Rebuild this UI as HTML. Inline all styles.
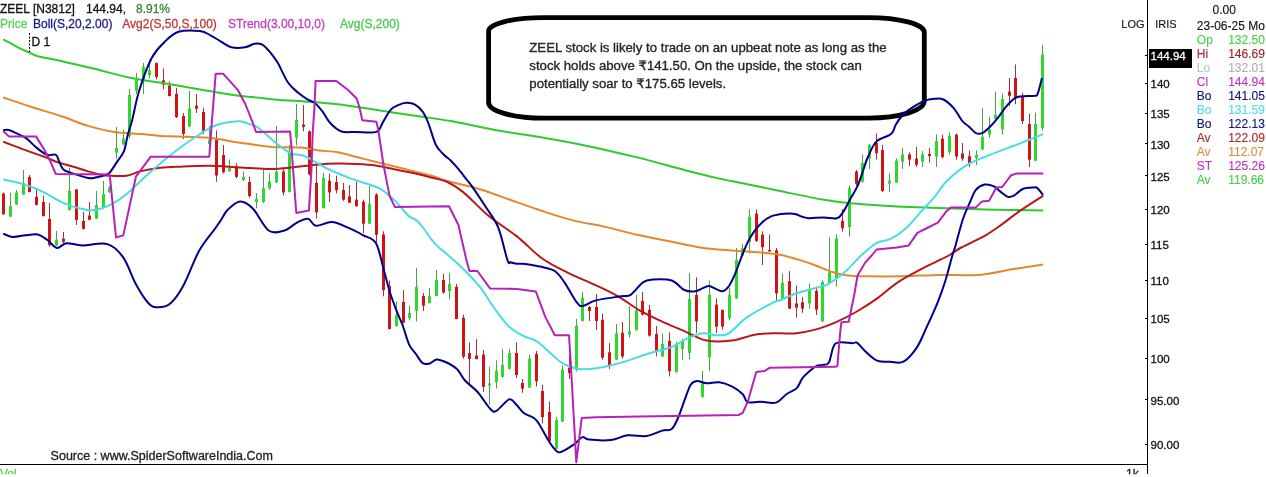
<!DOCTYPE html>
<html><head><meta charset="utf-8"><style>
html,body{margin:0;padding:0;background:#fff;}
body{width:1266px;height:477px;overflow:hidden;position:relative;}
svg{position:absolute;left:0;top:0;}
text{font-family:"Liberation Sans","DejaVu Sans",sans-serif;}
.ax{font-size:11.5px;fill:#111;stroke:#111;stroke-width:0.3px;}
.hd{font-size:12px;stroke-width:0.3px;}
.lg{font-size:12px;stroke-width:0.12px;}
.note{font-family:"Liberation Sans","DejaVu Sans",sans-serif;font-size:13.2px;fill:#262626;stroke:#262626;stroke-width:0.35px;}
</style></head><body>
<svg width="1266" height="477" viewBox="0 0 1266 477">
<defs><clipPath id="clipb"><rect x="0" y="0" width="1266" height="474.3"/></clipPath></defs>
<path d="M543.6,17.6 H868.3 A56,14.7 0 0 1 924.3,32.3 V101.0 A56,17.2 0 0 1 868.3,118.2 H543.6 A55,15.7 0 0 1 488.6,102.5 V31.1 A55,13.5 0 0 1 543.6,17.6 Z" fill="none" stroke="#000" stroke-width="4.8"/>
<line x1="3.5" y1="192.5" x2="3.5" y2="215.0" stroke="#A83030" stroke-width="1"/>
<rect x="2.0" y="193.5" width="3" height="20.5" fill="#D01414"/>
<line x1="10.5" y1="192.5" x2="10.5" y2="217.0" stroke="#48A048" stroke-width="1"/>
<rect x="9.0" y="206.0" width="3" height="10.6" fill="#2ED82E"/>
<line x1="16.5" y1="190.0" x2="16.5" y2="205.0" stroke="#48A048" stroke-width="1"/>
<rect x="15.0" y="192.5" width="3" height="12.0" fill="#2ED82E"/>
<line x1="23.5" y1="170.0" x2="23.5" y2="195.0" stroke="#48A048" stroke-width="1"/>
<rect x="22.0" y="183.0" width="3" height="11.6" fill="#2ED82E"/>
<line x1="29.5" y1="175.0" x2="29.5" y2="192.5" stroke="#A83030" stroke-width="1"/>
<rect x="28.0" y="177.0" width="3" height="15.0" fill="#D01414"/>
<line x1="36.5" y1="188.3" x2="36.5" y2="205.5" stroke="#A83030" stroke-width="1"/>
<rect x="35.0" y="196.7" width="3" height="8.3" fill="#D01414"/>
<line x1="43.5" y1="195.6" x2="43.5" y2="216.6" stroke="#A83030" stroke-width="1"/>
<rect x="42.0" y="202.0" width="3" height="14.0" fill="#D01414"/>
<line x1="49.5" y1="203.0" x2="49.5" y2="247.0" stroke="#A83030" stroke-width="1"/>
<rect x="48.0" y="219.0" width="3" height="26.0" fill="#D01414"/>
<line x1="56.5" y1="231.0" x2="56.5" y2="246.0" stroke="#48A048" stroke-width="1"/>
<rect x="55.0" y="239.7" width="3" height="5.8" fill="#2ED82E"/>
<line x1="63.5" y1="232.0" x2="63.5" y2="243.0" stroke="#A83030" stroke-width="1"/>
<rect x="62.0" y="238.6" width="3" height="3.2" fill="#D01414"/>
<line x1="69.5" y1="168.0" x2="69.5" y2="210.5" stroke="#48A048" stroke-width="1"/>
<rect x="68.0" y="191.0" width="3" height="19.0" fill="#2ED82E"/>
<line x1="76.5" y1="189.0" x2="76.5" y2="225.0" stroke="#A83030" stroke-width="1"/>
<rect x="75.0" y="189.5" width="3" height="30.5" fill="#D01414"/>
<line x1="83.5" y1="212.0" x2="83.5" y2="229.5" stroke="#A83030" stroke-width="1"/>
<rect x="82.0" y="221.0" width="3" height="8.0" fill="#D01414"/>
<line x1="89.5" y1="202.0" x2="89.5" y2="220.5" stroke="#A83030" stroke-width="1"/>
<rect x="88.0" y="215.5" width="3" height="4.2" fill="#D01414"/>
<line x1="96.5" y1="191.0" x2="96.5" y2="219.0" stroke="#48A048" stroke-width="1"/>
<rect x="95.0" y="205.0" width="3" height="13.7" fill="#2ED82E"/>
<line x1="103.5" y1="181.0" x2="103.5" y2="208.5" stroke="#48A048" stroke-width="1"/>
<rect x="102.0" y="194.0" width="3" height="14.0" fill="#2ED82E"/>
<line x1="109.5" y1="186.0" x2="109.5" y2="193.0" stroke="#48A048" stroke-width="1"/>
<rect x="108.0" y="187.5" width="3" height="4.5" fill="#2ED82E"/>
<line x1="116.5" y1="127.0" x2="116.5" y2="158.7" stroke="#48A048" stroke-width="1"/>
<rect x="115.0" y="148.0" width="3" height="4.6" fill="#2ED82E"/>
<line x1="123.5" y1="129.7" x2="123.5" y2="145.2" stroke="#48A048" stroke-width="1"/>
<rect x="122.0" y="138.5" width="3" height="5.8" fill="#2ED82E"/>
<line x1="129.5" y1="88.8" x2="129.5" y2="138.5" stroke="#48A048" stroke-width="1"/>
<rect x="128.0" y="95.0" width="3" height="41.0" fill="#2ED82E"/>
<line x1="136.5" y1="73.0" x2="136.5" y2="94.0" stroke="#48A048" stroke-width="1"/>
<rect x="135.0" y="79.4" width="3" height="11.6" fill="#2ED82E"/>
<line x1="143.5" y1="63.0" x2="143.5" y2="94.0" stroke="#48A048" stroke-width="1"/>
<rect x="142.0" y="66.8" width="3" height="14.6" fill="#2ED82E"/>
<line x1="149.5" y1="59.4" x2="149.5" y2="78.3" stroke="#48A048" stroke-width="1"/>
<rect x="148.0" y="70.0" width="3" height="5.0" fill="#2ED82E"/>
<line x1="156.5" y1="62.6" x2="156.5" y2="79.4" stroke="#A83030" stroke-width="1"/>
<rect x="155.0" y="63.0" width="3" height="14.0" fill="#D01414"/>
<line x1="163.5" y1="68.4" x2="163.5" y2="89.4" stroke="#A83030" stroke-width="1"/>
<rect x="162.0" y="80.4" width="3" height="4.2" fill="#D01414"/>
<line x1="169.5" y1="81.4" x2="169.5" y2="96.5" stroke="#A83030" stroke-width="1"/>
<rect x="168.0" y="85.6" width="3" height="10.4" fill="#D01414"/>
<line x1="176.5" y1="87.7" x2="176.5" y2="118.0" stroke="#A83030" stroke-width="1"/>
<rect x="175.0" y="94.0" width="3" height="23.0" fill="#D01414"/>
<line x1="183.5" y1="113.0" x2="183.5" y2="139.0" stroke="#A83030" stroke-width="1"/>
<rect x="182.0" y="116.0" width="3" height="18.0" fill="#D01414"/>
<line x1="189.5" y1="91.0" x2="189.5" y2="127.0" stroke="#48A048" stroke-width="1"/>
<rect x="188.0" y="108.7" width="3" height="17.8" fill="#2ED82E"/>
<line x1="196.5" y1="94.0" x2="196.5" y2="113.0" stroke="#A83030" stroke-width="1"/>
<rect x="195.0" y="105.6" width="3" height="3.1" fill="#D01414"/>
<line x1="203.5" y1="107.7" x2="203.5" y2="134.0" stroke="#A83030" stroke-width="1"/>
<rect x="202.0" y="112.0" width="3" height="20.0" fill="#D01414"/>
<line x1="209.5" y1="126.0" x2="209.5" y2="145.0" stroke="#48A048" stroke-width="1"/>
<rect x="208.0" y="140.0" width="3" height="4.0" fill="#2ED82E"/>
<line x1="216.5" y1="130.4" x2="216.5" y2="181.8" stroke="#A83030" stroke-width="1"/>
<rect x="215.0" y="139.8" width="3" height="35.7" fill="#D01414"/>
<line x1="223.5" y1="145.0" x2="223.5" y2="173.4" stroke="#A83030" stroke-width="1"/>
<rect x="222.0" y="155.0" width="3" height="17.3" fill="#D01414"/>
<line x1="229.5" y1="159.7" x2="229.5" y2="171.5" stroke="#48A048" stroke-width="1"/>
<rect x="228.0" y="168.0" width="3" height="3.3" fill="#2ED82E"/>
<line x1="236.5" y1="163.0" x2="236.5" y2="178.3" stroke="#A83030" stroke-width="1"/>
<rect x="235.0" y="166.3" width="3" height="10.5" fill="#D01414"/>
<line x1="243.5" y1="171.5" x2="243.5" y2="181.0" stroke="#48A048" stroke-width="1"/>
<rect x="242.0" y="176.8" width="3" height="3.2" fill="#2ED82E"/>
<line x1="249.5" y1="176.8" x2="249.5" y2="197.6" stroke="#A83030" stroke-width="1"/>
<rect x="248.0" y="182.0" width="3" height="14.0" fill="#D01414"/>
<line x1="256.5" y1="193.0" x2="256.5" y2="208.2" stroke="#48A048" stroke-width="1"/>
<rect x="255.0" y="198.8" width="3" height="3.2" fill="#2ED82E"/>
<line x1="263.5" y1="168.4" x2="263.5" y2="203.0" stroke="#48A048" stroke-width="1"/>
<rect x="262.0" y="188.3" width="3" height="13.7" fill="#2ED82E"/>
<line x1="269.5" y1="173.5" x2="269.5" y2="189.8" stroke="#48A048" stroke-width="1"/>
<rect x="268.0" y="181.5" width="3" height="6.8" fill="#2ED82E"/>
<line x1="276.5" y1="126.0" x2="276.5" y2="183.0" stroke="#48A048" stroke-width="1"/>
<rect x="275.0" y="171.5" width="3" height="10.9" fill="#2ED82E"/>
<line x1="283.5" y1="167.3" x2="283.5" y2="195.5" stroke="#A83030" stroke-width="1"/>
<rect x="282.0" y="171.5" width="3" height="21.0" fill="#D01414"/>
<line x1="289.5" y1="145.0" x2="289.5" y2="192.5" stroke="#48A048" stroke-width="1"/>
<rect x="288.0" y="152.0" width="3" height="40.0" fill="#2ED82E"/>
<line x1="296.5" y1="104.0" x2="296.5" y2="145.5" stroke="#48A048" stroke-width="1"/>
<rect x="295.0" y="120.0" width="3" height="17.7" fill="#2ED82E"/>
<line x1="303.5" y1="105.0" x2="303.5" y2="131.4" stroke="#A83030" stroke-width="1"/>
<rect x="302.0" y="124.6" width="3" height="2.4" fill="#D01414"/>
<line x1="309.5" y1="130.4" x2="309.5" y2="175.5" stroke="#A83030" stroke-width="1"/>
<rect x="308.0" y="131.4" width="3" height="43.0" fill="#D01414"/>
<line x1="316.5" y1="164.5" x2="316.5" y2="218.7" stroke="#A83030" stroke-width="1"/>
<rect x="315.0" y="183.0" width="3" height="29.4" fill="#D01414"/>
<line x1="323.5" y1="172.8" x2="323.5" y2="208.5" stroke="#48A048" stroke-width="1"/>
<rect x="322.0" y="178.0" width="3" height="30.2" fill="#2ED82E"/>
<line x1="329.5" y1="173.6" x2="329.5" y2="202.0" stroke="#A83030" stroke-width="1"/>
<rect x="328.0" y="180.7" width="3" height="11.7" fill="#D01414"/>
<line x1="336.5" y1="175.6" x2="336.5" y2="193.4" stroke="#A83030" stroke-width="1"/>
<rect x="335.0" y="182.0" width="3" height="8.2" fill="#D01414"/>
<line x1="343.5" y1="183.0" x2="343.5" y2="200.8" stroke="#A83030" stroke-width="1"/>
<rect x="342.0" y="190.0" width="3" height="9.7" fill="#D01414"/>
<line x1="349.5" y1="185.0" x2="349.5" y2="203.0" stroke="#A83030" stroke-width="1"/>
<rect x="348.0" y="196.4" width="3" height="6.3" fill="#D01414"/>
<line x1="356.5" y1="181.8" x2="356.5" y2="207.0" stroke="#A83030" stroke-width="1"/>
<rect x="355.0" y="199.6" width="3" height="6.4" fill="#D01414"/>
<line x1="363.5" y1="199.6" x2="363.5" y2="233.0" stroke="#A83030" stroke-width="1"/>
<rect x="362.0" y="201.7" width="3" height="22.0" fill="#D01414"/>
<line x1="369.5" y1="186.0" x2="369.5" y2="224.0" stroke="#48A048" stroke-width="1"/>
<rect x="368.0" y="203.8" width="3" height="19.9" fill="#2ED82E"/>
<line x1="376.5" y1="193.3" x2="376.5" y2="242.6" stroke="#A83030" stroke-width="1"/>
<rect x="375.0" y="194.4" width="3" height="40.4" fill="#D01414"/>
<line x1="383.5" y1="231.3" x2="383.5" y2="296.3" stroke="#A83030" stroke-width="1"/>
<rect x="382.0" y="234.4" width="3" height="55.6" fill="#D01414"/>
<line x1="389.5" y1="280.5" x2="389.5" y2="329.5" stroke="#A83030" stroke-width="1"/>
<rect x="388.0" y="286.0" width="3" height="43.0" fill="#D01414"/>
<line x1="396.5" y1="301.5" x2="396.5" y2="326.5" stroke="#48A048" stroke-width="1"/>
<rect x="395.0" y="315.0" width="3" height="11.0" fill="#2ED82E"/>
<line x1="403.5" y1="290.0" x2="403.5" y2="323.5" stroke="#A83030" stroke-width="1"/>
<rect x="402.0" y="302.0" width="3" height="20.7" fill="#D01414"/>
<line x1="409.5" y1="305.7" x2="409.5" y2="320.4" stroke="#48A048" stroke-width="1"/>
<rect x="408.0" y="312.8" width="3" height="5.2" fill="#2ED82E"/>
<line x1="416.5" y1="268.0" x2="416.5" y2="321.4" stroke="#48A048" stroke-width="1"/>
<rect x="415.0" y="286.8" width="3" height="24.2" fill="#2ED82E"/>
<line x1="423.5" y1="293.0" x2="423.5" y2="311.0" stroke="#A83030" stroke-width="1"/>
<rect x="422.0" y="295.9" width="3" height="9.8" fill="#D01414"/>
<line x1="429.5" y1="288.0" x2="429.5" y2="303.6" stroke="#48A048" stroke-width="1"/>
<rect x="428.0" y="295.9" width="3" height="7.1" fill="#2ED82E"/>
<line x1="436.5" y1="270.0" x2="436.5" y2="296.3" stroke="#48A048" stroke-width="1"/>
<rect x="435.0" y="280.0" width="3" height="16.0" fill="#2ED82E"/>
<line x1="443.5" y1="273.6" x2="443.5" y2="293.8" stroke="#A83030" stroke-width="1"/>
<rect x="442.0" y="280.0" width="3" height="12.5" fill="#D01414"/>
<line x1="449.5" y1="272.8" x2="449.5" y2="299.4" stroke="#48A048" stroke-width="1"/>
<rect x="448.0" y="284.0" width="3" height="7.0" fill="#2ED82E"/>
<line x1="456.5" y1="284.0" x2="456.5" y2="319.3" stroke="#A83030" stroke-width="1"/>
<rect x="455.0" y="286.8" width="3" height="32.2" fill="#D01414"/>
<line x1="463.5" y1="314.7" x2="463.5" y2="358.7" stroke="#A83030" stroke-width="1"/>
<rect x="462.0" y="317.8" width="3" height="38.8" fill="#D01414"/>
<line x1="469.5" y1="342.5" x2="469.5" y2="385.8" stroke="#A83030" stroke-width="1"/>
<rect x="468.0" y="353.0" width="3" height="6.0" fill="#D01414"/>
<line x1="476.5" y1="339.1" x2="476.5" y2="359.5" stroke="#A83030" stroke-width="1"/>
<rect x="475.0" y="355.6" width="3" height="3.4" fill="#D01414"/>
<line x1="483.5" y1="350.0" x2="483.5" y2="392.0" stroke="#A83030" stroke-width="1"/>
<rect x="482.0" y="354.5" width="3" height="32.3" fill="#D01414"/>
<line x1="489.5" y1="366.6" x2="489.5" y2="404.5" stroke="#48A048" stroke-width="1"/>
<rect x="488.0" y="383.4" width="3" height="2.1" fill="#2ED82E"/>
<line x1="496.5" y1="360.3" x2="496.5" y2="388.6" stroke="#48A048" stroke-width="1"/>
<rect x="495.0" y="370.8" width="3" height="11.5" fill="#2ED82E"/>
<line x1="502.5" y1="348.8" x2="502.5" y2="377.5" stroke="#48A048" stroke-width="1"/>
<rect x="501.0" y="365.0" width="3" height="12.0" fill="#2ED82E"/>
<line x1="509.5" y1="348.8" x2="509.5" y2="369.7" stroke="#48A048" stroke-width="1"/>
<rect x="508.0" y="353.0" width="3" height="15.7" fill="#2ED82E"/>
<line x1="516.5" y1="342.5" x2="516.5" y2="378.0" stroke="#A83030" stroke-width="1"/>
<rect x="515.0" y="353.0" width="3" height="22.0" fill="#D01414"/>
<line x1="522.5" y1="379.0" x2="522.5" y2="392.8" stroke="#A83030" stroke-width="1"/>
<rect x="521.0" y="383.0" width="3" height="5.6" fill="#D01414"/>
<line x1="529.5" y1="355.0" x2="529.5" y2="388.0" stroke="#48A048" stroke-width="1"/>
<rect x="528.0" y="358.6" width="3" height="29.0" fill="#2ED82E"/>
<line x1="536.5" y1="351.0" x2="536.5" y2="386.5" stroke="#A83030" stroke-width="1"/>
<rect x="535.0" y="354.0" width="3" height="27.3" fill="#D01414"/>
<line x1="542.5" y1="384.7" x2="542.5" y2="423.5" stroke="#A83030" stroke-width="1"/>
<rect x="541.0" y="391.0" width="3" height="26.0" fill="#D01414"/>
<line x1="549.5" y1="401.4" x2="549.5" y2="442.3" stroke="#A83030" stroke-width="1"/>
<rect x="548.0" y="412.0" width="3" height="29.3" fill="#D01414"/>
<line x1="556.5" y1="417.0" x2="556.5" y2="449.0" stroke="#48A048" stroke-width="1"/>
<rect x="555.0" y="420.0" width="3" height="28.6" fill="#2ED82E"/>
<line x1="562.5" y1="365.6" x2="562.5" y2="422.0" stroke="#48A048" stroke-width="1"/>
<rect x="561.0" y="369.7" width="3" height="51.7" fill="#2ED82E"/>
<line x1="569.5" y1="355.0" x2="569.5" y2="379.0" stroke="#A83030" stroke-width="1"/>
<rect x="568.0" y="367.6" width="3" height="5.4" fill="#D01414"/>
<line x1="576.5" y1="318.8" x2="576.5" y2="371.5" stroke="#48A048" stroke-width="1"/>
<rect x="575.0" y="326.0" width="3" height="44.0" fill="#2ED82E"/>
<line x1="582.5" y1="292.0" x2="582.5" y2="321.5" stroke="#48A048" stroke-width="1"/>
<rect x="581.0" y="297.8" width="3" height="23.2" fill="#2ED82E"/>
<line x1="589.5" y1="306.0" x2="589.5" y2="321.0" stroke="#A83030" stroke-width="1"/>
<rect x="588.0" y="307.0" width="3" height="4.0" fill="#D01414"/>
<line x1="596.5" y1="294.0" x2="596.5" y2="330.0" stroke="#A83030" stroke-width="1"/>
<rect x="595.0" y="307.0" width="3" height="14.0" fill="#D01414"/>
<line x1="602.5" y1="313.5" x2="602.5" y2="359.7" stroke="#A83030" stroke-width="1"/>
<rect x="601.0" y="319.8" width="3" height="37.8" fill="#D01414"/>
<line x1="609.5" y1="343.0" x2="609.5" y2="369.0" stroke="#A83030" stroke-width="1"/>
<rect x="608.0" y="352.3" width="3" height="13.7" fill="#D01414"/>
<line x1="616.5" y1="324.0" x2="616.5" y2="360.0" stroke="#48A048" stroke-width="1"/>
<rect x="615.0" y="333.5" width="3" height="26.2" fill="#2ED82E"/>
<line x1="622.5" y1="322.0" x2="622.5" y2="358.6" stroke="#A83030" stroke-width="1"/>
<rect x="621.0" y="332.8" width="3" height="23.7" fill="#D01414"/>
<line x1="629.5" y1="306.0" x2="629.5" y2="337.7" stroke="#48A048" stroke-width="1"/>
<rect x="628.0" y="331.4" width="3" height="3.1" fill="#2ED82E"/>
<line x1="636.5" y1="294.7" x2="636.5" y2="330.5" stroke="#48A048" stroke-width="1"/>
<rect x="635.0" y="310.4" width="3" height="19.9" fill="#2ED82E"/>
<line x1="642.5" y1="292.0" x2="642.5" y2="315.6" stroke="#A83030" stroke-width="1"/>
<rect x="641.0" y="301.0" width="3" height="13.6" fill="#D01414"/>
<line x1="649.5" y1="305.0" x2="649.5" y2="336.6" stroke="#A83030" stroke-width="1"/>
<rect x="648.0" y="309.8" width="3" height="25.8" fill="#D01414"/>
<line x1="656.5" y1="326.0" x2="656.5" y2="356.5" stroke="#A83030" stroke-width="1"/>
<rect x="655.0" y="334.0" width="3" height="17.3" fill="#D01414"/>
<line x1="662.5" y1="333.5" x2="662.5" y2="357.0" stroke="#48A048" stroke-width="1"/>
<rect x="661.0" y="344.0" width="3" height="12.5" fill="#2ED82E"/>
<line x1="669.5" y1="332.4" x2="669.5" y2="376.4" stroke="#A83030" stroke-width="1"/>
<rect x="668.0" y="340.8" width="3" height="30.4" fill="#D01414"/>
<line x1="676.5" y1="341.8" x2="676.5" y2="372.5" stroke="#48A048" stroke-width="1"/>
<rect x="675.0" y="345.0" width="3" height="27.2" fill="#2ED82E"/>
<line x1="682.5" y1="338.7" x2="682.5" y2="359.7" stroke="#48A048" stroke-width="1"/>
<rect x="681.0" y="341.0" width="3" height="8.0" fill="#2ED82E"/>
<line x1="689.5" y1="273.0" x2="689.5" y2="359.4" stroke="#48A048" stroke-width="1"/>
<rect x="688.0" y="299.0" width="3" height="53.8" fill="#2ED82E"/>
<line x1="696.5" y1="277.3" x2="696.5" y2="333.0" stroke="#A83030" stroke-width="1"/>
<rect x="695.0" y="295.0" width="3" height="26.4" fill="#D01414"/>
<line x1="702.5" y1="371.0" x2="702.5" y2="397.5" stroke="#48A048" stroke-width="1"/>
<rect x="701.0" y="383.5" width="3" height="13.5" fill="#2ED82E"/>
<line x1="709.5" y1="280.5" x2="709.5" y2="371.0" stroke="#48A048" stroke-width="1"/>
<rect x="708.0" y="295.0" width="3" height="62.3" fill="#2ED82E"/>
<line x1="716.5" y1="298.3" x2="716.5" y2="333.0" stroke="#A83030" stroke-width="1"/>
<rect x="715.0" y="304.6" width="3" height="22.0" fill="#D01414"/>
<line x1="722.5" y1="309.8" x2="722.5" y2="329.7" stroke="#A83030" stroke-width="1"/>
<rect x="721.0" y="309.8" width="3" height="16.8" fill="#D01414"/>
<line x1="729.5" y1="287.8" x2="729.5" y2="320.3" stroke="#48A048" stroke-width="1"/>
<rect x="728.0" y="295.0" width="3" height="23.2" fill="#2ED82E"/>
<line x1="736.5" y1="248.0" x2="736.5" y2="299.0" stroke="#48A048" stroke-width="1"/>
<rect x="735.0" y="259.7" width="3" height="38.8" fill="#2ED82E"/>
<line x1="742.5" y1="244.0" x2="742.5" y2="256.0" stroke="#48A048" stroke-width="1"/>
<rect x="741.0" y="248.2" width="3" height="7.4" fill="#2ED82E"/>
<line x1="749.5" y1="209.4" x2="749.5" y2="253.5" stroke="#48A048" stroke-width="1"/>
<rect x="748.0" y="216.8" width="3" height="25.2" fill="#2ED82E"/>
<line x1="756.5" y1="209.4" x2="756.5" y2="242.0" stroke="#A83030" stroke-width="1"/>
<rect x="755.0" y="213.6" width="3" height="27.3" fill="#D01414"/>
<line x1="762.5" y1="231.4" x2="762.5" y2="265.0" stroke="#A83030" stroke-width="1"/>
<rect x="761.0" y="234.6" width="3" height="12.6" fill="#D01414"/>
<line x1="769.5" y1="234.6" x2="769.5" y2="251.8" stroke="#A83030" stroke-width="1"/>
<rect x="768.0" y="250.0" width="3" height="1.4" fill="#D01414"/>
<line x1="776.5" y1="248.0" x2="776.5" y2="301.4" stroke="#A83030" stroke-width="1"/>
<rect x="775.0" y="250.3" width="3" height="43.0" fill="#D01414"/>
<line x1="782.5" y1="273.4" x2="782.5" y2="299.4" stroke="#48A048" stroke-width="1"/>
<rect x="781.0" y="282.7" width="3" height="15.6" fill="#2ED82E"/>
<line x1="789.5" y1="271.1" x2="789.5" y2="309.0" stroke="#A83030" stroke-width="1"/>
<rect x="788.0" y="281.2" width="3" height="27.5" fill="#D01414"/>
<line x1="796.5" y1="285.6" x2="796.5" y2="317.6" stroke="#A83030" stroke-width="1"/>
<rect x="795.0" y="303.4" width="3" height="4.2" fill="#D01414"/>
<line x1="802.5" y1="297.0" x2="802.5" y2="312.8" stroke="#A83030" stroke-width="1"/>
<rect x="801.0" y="302.3" width="3" height="6.3" fill="#D01414"/>
<line x1="809.5" y1="283.5" x2="809.5" y2="308.6" stroke="#48A048" stroke-width="1"/>
<rect x="808.0" y="289.7" width="3" height="13.7" fill="#2ED82E"/>
<line x1="816.5" y1="286.6" x2="816.5" y2="315.0" stroke="#A83030" stroke-width="1"/>
<rect x="815.0" y="290.8" width="3" height="18.9" fill="#D01414"/>
<line x1="822.5" y1="280.3" x2="822.5" y2="322.2" stroke="#48A048" stroke-width="1"/>
<rect x="821.0" y="282.0" width="3" height="39.2" fill="#2ED82E"/>
<line x1="829.5" y1="237.3" x2="829.5" y2="284.0" stroke="#48A048" stroke-width="1"/>
<rect x="828.0" y="272.0" width="3" height="11.5" fill="#2ED82E"/>
<line x1="836.5" y1="234.2" x2="836.5" y2="286.6" stroke="#48A048" stroke-width="1"/>
<rect x="835.0" y="238.4" width="3" height="39.8" fill="#2ED82E"/>
<line x1="842.5" y1="209.0" x2="842.5" y2="231.7" stroke="#A83030" stroke-width="1"/>
<rect x="841.0" y="220.8" width="3" height="7.5" fill="#D01414"/>
<line x1="849.5" y1="185.4" x2="849.5" y2="236.5" stroke="#48A048" stroke-width="1"/>
<rect x="848.0" y="188.2" width="3" height="38.8" fill="#2ED82E"/>
<line x1="856.5" y1="170.0" x2="856.5" y2="185.8" stroke="#A83030" stroke-width="1"/>
<rect x="855.0" y="171.5" width="3" height="12.2" fill="#D01414"/>
<line x1="862.5" y1="154.4" x2="862.5" y2="182.6" stroke="#48A048" stroke-width="1"/>
<rect x="861.0" y="162.7" width="3" height="18.9" fill="#2ED82E"/>
<line x1="869.5" y1="143.9" x2="869.5" y2="169.0" stroke="#48A048" stroke-width="1"/>
<rect x="868.0" y="145.0" width="3" height="13.5" fill="#2ED82E"/>
<line x1="876.5" y1="133.4" x2="876.5" y2="159.6" stroke="#A83030" stroke-width="1"/>
<rect x="875.0" y="142.8" width="3" height="10.5" fill="#D01414"/>
<line x1="882.5" y1="145.0" x2="882.5" y2="192.0" stroke="#A83030" stroke-width="1"/>
<rect x="881.0" y="150.0" width="3" height="41.0" fill="#D01414"/>
<line x1="889.5" y1="173.2" x2="889.5" y2="192.0" stroke="#48A048" stroke-width="1"/>
<rect x="888.0" y="180.6" width="3" height="3.1" fill="#2ED82E"/>
<line x1="896.5" y1="158.5" x2="896.5" y2="183.0" stroke="#48A048" stroke-width="1"/>
<rect x="895.0" y="160.6" width="3" height="22.0" fill="#2ED82E"/>
<line x1="902.5" y1="148.0" x2="902.5" y2="169.0" stroke="#48A048" stroke-width="1"/>
<rect x="901.0" y="154.4" width="3" height="7.3" fill="#2ED82E"/>
<line x1="909.5" y1="152.3" x2="909.5" y2="165.9" stroke="#A83030" stroke-width="1"/>
<rect x="908.0" y="154.4" width="3" height="5.2" fill="#D01414"/>
<line x1="916.5" y1="147.0" x2="916.5" y2="167.0" stroke="#A83030" stroke-width="1"/>
<rect x="915.0" y="158.5" width="3" height="6.3" fill="#D01414"/>
<line x1="922.5" y1="151.2" x2="922.5" y2="167.0" stroke="#48A048" stroke-width="1"/>
<rect x="921.0" y="154.4" width="3" height="7.3" fill="#2ED82E"/>
<line x1="929.5" y1="148.0" x2="929.5" y2="162.7" stroke="#A83030" stroke-width="1"/>
<rect x="928.0" y="154.0" width="3" height="2.0" fill="#D01414"/>
<line x1="936.5" y1="134.5" x2="936.5" y2="167.0" stroke="#48A048" stroke-width="1"/>
<rect x="935.0" y="141.0" width="3" height="15.6" fill="#2ED82E"/>
<line x1="942.5" y1="134.5" x2="942.5" y2="158.6" stroke="#A83030" stroke-width="1"/>
<rect x="941.0" y="138.7" width="3" height="18.3" fill="#D01414"/>
<line x1="949.5" y1="132.5" x2="949.5" y2="154.5" stroke="#48A048" stroke-width="1"/>
<rect x="948.0" y="136.0" width="3" height="16.0" fill="#2ED82E"/>
<line x1="956.5" y1="133.5" x2="956.5" y2="159.7" stroke="#A83030" stroke-width="1"/>
<rect x="955.0" y="134.6" width="3" height="22.0" fill="#D01414"/>
<line x1="962.5" y1="143.0" x2="962.5" y2="160.8" stroke="#A83030" stroke-width="1"/>
<rect x="961.0" y="153.5" width="3" height="5.2" fill="#D01414"/>
<line x1="969.5" y1="150.3" x2="969.5" y2="167.0" stroke="#A83030" stroke-width="1"/>
<rect x="968.0" y="156.2" width="3" height="6.8" fill="#D01414"/>
<line x1="976.5" y1="150.3" x2="976.5" y2="165.0" stroke="#48A048" stroke-width="1"/>
<rect x="975.0" y="155.0" width="3" height="3.0" fill="#2ED82E"/>
<line x1="982.5" y1="108.4" x2="982.5" y2="150.3" stroke="#48A048" stroke-width="1"/>
<rect x="981.0" y="136.7" width="3" height="12.6" fill="#2ED82E"/>
<line x1="989.5" y1="116.8" x2="989.5" y2="137.7" stroke="#48A048" stroke-width="1"/>
<rect x="988.0" y="129.4" width="3" height="5.2" fill="#2ED82E"/>
<line x1="995.5" y1="91.6" x2="995.5" y2="119.0" stroke="#48A048" stroke-width="1"/>
<rect x="994.0" y="114.7" width="3" height="4.2" fill="#2ED82E"/>
<line x1="1002.5" y1="93.7" x2="1002.5" y2="134.6" stroke="#48A048" stroke-width="1"/>
<rect x="1001.0" y="99.0" width="3" height="30.4" fill="#2ED82E"/>
<line x1="1009.5" y1="78.0" x2="1009.5" y2="106.3" stroke="#A83030" stroke-width="1"/>
<rect x="1008.0" y="91.6" width="3" height="4.2" fill="#D01414"/>
<line x1="1015.5" y1="64.4" x2="1015.5" y2="104.2" stroke="#A83030" stroke-width="1"/>
<rect x="1014.0" y="78.0" width="3" height="19.9" fill="#D01414"/>
<line x1="1022.5" y1="92.7" x2="1022.5" y2="124.0" stroke="#A83030" stroke-width="1"/>
<rect x="1021.0" y="95.8" width="3" height="25.2" fill="#D01414"/>
<line x1="1029.5" y1="113.6" x2="1029.5" y2="167.0" stroke="#A83030" stroke-width="1"/>
<rect x="1028.0" y="124.0" width="3" height="35.7" fill="#D01414"/>
<line x1="1035.5" y1="112.6" x2="1035.5" y2="161.0" stroke="#48A048" stroke-width="1"/>
<rect x="1034.0" y="124.0" width="3" height="36.8" fill="#2ED82E"/>
<line x1="1042.5" y1="44.8" x2="1042.5" y2="130.5" stroke="#48A048" stroke-width="1"/>
<rect x="1041.0" y="54.6" width="3" height="73.4" fill="#2ED82E"/>
<path d="M3.2,39.4 C6.2,41.0 16.6,46.7 21.0,48.9 C25.4,51.1 26.6,51.3 29.4,52.5 C32.2,53.7 32.1,54.7 37.7,56.2 C43.3,57.7 53.4,59.3 62.9,61.4 C72.3,63.5 83.2,66.1 94.4,68.8 C105.6,71.5 118.3,75.4 130.0,77.8 C141.7,80.2 152.6,81.4 164.3,83.3 C176.0,85.2 190.6,87.8 200.0,89.4 C209.4,91.0 214.0,91.9 221.0,93.0 C228.0,94.1 234.9,95.2 241.9,96.1 C248.9,97.0 255.9,97.5 262.9,98.2 C269.9,98.9 276.9,99.8 283.9,100.3 C290.9,100.8 295.8,100.8 304.8,101.4 C313.8,102.1 325.9,102.8 337.7,104.2 C349.5,105.6 362.9,107.9 375.5,109.8 C388.1,111.7 400.6,113.6 413.2,115.5 C425.8,117.4 437.3,118.7 450.9,121.1 C464.5,123.5 479.6,127.3 494.8,130.0 C510.0,132.7 526.4,134.8 542.2,137.5 C558.0,140.2 573.8,143.1 589.6,146.4 C605.4,149.7 621.2,153.5 637.0,157.4 C652.8,161.3 671.2,166.6 684.4,170.0 C697.6,173.4 705.5,175.5 716.0,177.9 C726.5,180.3 736.8,182.0 747.5,184.2 C758.2,186.4 767.3,188.4 780.0,191.0 C792.7,193.6 811.7,197.7 823.9,199.8 C836.1,201.9 840.9,202.5 853.1,203.6 C865.3,204.7 882.4,205.8 897.0,206.5 C911.6,207.2 926.2,207.5 940.8,208.0 C955.4,208.5 967.6,209.1 984.7,209.5 C1001.8,209.9 1033.5,210.2 1043.2,210.4" fill="none" stroke="#2ECA2E" stroke-width="2" stroke-linejoin="round"/>
<path d="M3.2,97.5 C7.9,99.1 21.6,103.8 31.6,107.0 C41.6,110.2 53.8,113.6 63.2,116.8 C72.6,120.0 79.5,123.4 88.1,125.9 C96.6,128.4 105.5,130.7 114.5,132.0 C123.5,133.3 134.6,133.3 142.2,134.0 C149.8,134.7 154.2,135.6 160.0,136.0 C165.8,136.4 168.9,136.2 177.0,136.5 C185.1,136.8 198.0,136.8 208.5,137.8 C219.0,138.8 229.5,141.2 240.0,142.7 C250.5,144.2 261.7,146.1 271.7,146.9 C281.7,147.7 292.1,146.9 300.0,147.5 C307.9,148.1 312.6,149.6 318.9,150.4 C325.2,151.2 331.4,151.2 337.7,152.3 C344.0,153.4 350.3,155.4 356.6,157.0 C362.9,158.6 369.2,160.1 375.5,161.7 C381.8,163.3 388.0,164.8 394.3,166.4 C400.6,168.0 406.9,169.5 413.2,171.1 C419.5,172.7 426.3,174.2 432.0,175.8 C437.7,177.5 439.6,178.8 447.4,181.0 C455.2,183.2 468.5,185.8 479.0,189.0 C489.5,192.2 500.1,196.3 510.6,200.0 C521.1,203.7 531.7,207.6 542.2,211.0 C552.7,214.4 563.3,217.9 573.8,220.6 C584.3,223.2 594.9,224.5 605.4,226.9 C615.9,229.3 626.5,232.4 637.0,234.8 C647.5,237.2 658.1,239.0 668.6,241.1 C679.1,243.2 689.7,245.8 700.2,247.4 C710.7,249.0 721.3,249.7 731.8,250.6 C742.3,251.5 755.4,252.1 763.4,252.8 C771.4,253.5 774.3,253.7 780.0,254.8 C785.7,255.9 791.6,257.7 797.5,259.4 C803.4,261.1 809.7,263.2 815.1,265.2 C820.5,267.1 824.8,269.5 829.7,271.1 C834.6,272.7 838.0,274.0 844.3,274.9 C850.6,275.8 858.0,276.1 867.7,276.3 C877.5,276.5 890.6,276.5 902.8,276.3 C915.0,276.1 928.1,275.1 940.8,274.9 C953.5,274.7 966.6,275.9 978.8,274.9 C991.0,273.9 1003.2,270.7 1013.9,269.0 C1024.6,267.3 1038.3,265.3 1043.2,264.6" fill="none" stroke="#E3882E" stroke-width="2" stroke-linejoin="round"/>
<path d="M3.2,141.7 C5.1,142.4 10.3,144.4 14.7,146.1 C19.1,147.8 24.5,149.8 29.4,151.6 C34.3,153.4 39.2,154.9 44.1,156.7 C49.0,158.5 53.8,160.9 58.7,162.6 C63.6,164.3 68.5,165.2 73.4,166.7 C78.3,168.2 83.2,170.0 88.1,171.4 C93.0,172.8 98.9,174.4 102.8,175.1 C106.7,175.8 107.7,175.7 111.6,175.8 C115.5,175.9 121.6,176.5 126.3,175.8 C131.0,175.1 134.7,172.7 140.0,171.4 C145.3,170.1 151.8,168.8 158.0,168.0 C164.2,167.2 168.6,167.2 177.0,166.8 C185.4,166.4 198.0,165.7 208.5,165.8 C219.0,165.9 229.5,166.9 240.0,167.4 C250.5,167.9 261.7,169.2 271.7,169.0 C281.7,168.8 292.1,167.2 300.0,166.4 C307.9,165.7 312.6,165.0 318.9,164.5 C325.2,164.0 331.4,163.7 337.7,163.6 C344.0,163.5 350.3,163.7 356.6,164.0 C362.9,164.3 369.2,164.6 375.5,165.5 C381.8,166.4 388.0,167.9 394.3,169.2 C400.6,170.4 406.9,171.6 413.2,173.0 C419.5,174.4 426.3,176.2 432.0,177.7 C437.7,179.2 442.2,179.6 447.4,182.0 C452.6,184.4 456.3,186.5 463.2,192.1 C470.1,197.7 479.6,208.4 488.5,215.8 C497.4,223.2 507.9,229.3 516.9,236.4 C525.9,243.5 533.8,252.5 542.2,258.5 C550.6,264.5 558.5,268.1 567.5,272.6 C576.5,277.1 587.5,281.4 595.9,285.3 C604.3,289.2 610.6,292.1 618.0,296.3 C625.4,300.5 632.7,306.4 640.1,310.6 C647.5,314.8 654.8,318.2 662.2,321.6 C669.6,325.0 677.0,327.9 684.4,331.1 C691.8,334.3 698.6,339.0 706.5,340.6 C714.4,342.2 723.4,341.7 731.8,340.6 C740.2,339.6 749.1,335.5 757.0,334.3 C764.9,333.1 772.8,333.5 779.1,333.3 C785.4,333.1 788.6,334.0 794.6,333.4 C800.6,332.8 808.3,331.5 815.1,329.6 C821.9,327.8 828.8,325.2 835.6,322.3 C842.4,319.4 849.2,315.9 856.0,312.0 C862.8,308.1 869.7,303.8 876.5,298.9 C883.3,294.0 890.2,287.4 897.0,282.8 C903.8,278.2 911.1,274.5 917.4,271.1 C923.7,267.7 929.6,265.0 935.0,262.3 C940.4,259.6 945.2,257.5 949.6,255.0 C954.0,252.5 955.4,250.7 961.3,247.5 C967.1,244.3 977.9,239.7 984.7,235.8 C991.5,231.9 996.4,228.2 1002.2,224.1 C1008.1,219.9 1013.0,215.6 1019.8,210.9 C1026.6,206.2 1039.3,198.2 1043.2,195.7" fill="none" stroke="#B81818" stroke-width="2" stroke-linejoin="round"/>
<path d="M3.2,179.5 C6.3,180.2 16.4,182.3 22.0,183.9 C27.6,185.5 32.5,187.3 36.7,189.0 C40.9,190.7 43.0,191.9 47.4,194.2 C51.8,196.5 57.4,200.3 63.2,202.8 C69.0,205.3 76.8,207.9 82.1,209.1 C87.4,210.3 90.0,210.7 94.8,210.0 C99.5,209.3 105.3,207.3 110.6,204.7 C115.9,202.1 120.1,199.4 126.4,194.2 C132.7,189.0 140.1,181.1 148.5,173.7 C156.9,166.3 168.1,156.8 177.0,150.0 C185.9,143.2 196.3,136.5 202.2,132.6 C208.1,128.7 208.8,128.1 212.6,126.5 C216.4,124.9 220.7,123.7 225.2,122.8 C229.7,121.9 235.6,121.0 239.8,121.3 C244.0,121.6 247.6,123.5 250.3,124.4 C253.1,125.3 253.7,124.9 256.3,126.5 C258.9,128.1 262.4,131.1 265.7,133.9 C269.0,136.7 273.0,140.7 276.2,143.3 C279.4,145.9 282.0,147.8 284.6,149.6 C287.2,151.3 289.4,152.9 292.0,153.8 C294.6,154.7 297.6,154.1 300.4,154.8 C303.2,155.5 305.9,156.6 308.8,158.0 C311.7,159.4 314.5,161.5 318.0,163.5 C321.5,165.5 324.5,167.5 330.0,170.0 C335.5,172.5 344.0,176.0 351.0,178.6 C358.0,181.2 367.2,183.8 372.0,185.5 C376.8,187.2 377.4,187.3 380.0,188.7 C382.6,190.1 384.9,191.9 387.3,193.8 C389.8,195.8 392.2,198.0 394.7,200.4 C397.1,202.8 399.6,205.8 402.0,208.5 C404.4,211.2 406.9,214.6 409.4,216.6 C411.8,218.6 414.3,218.4 416.7,220.5 C419.1,222.6 421.6,225.9 424.0,229.0 C426.4,232.1 428.9,236.2 431.4,239.3 C433.8,242.4 436.3,245.1 438.7,247.4 C441.1,249.7 442.9,250.6 446.0,253.3 C449.1,256.0 453.7,259.9 457.6,263.5 C461.5,267.1 465.5,271.1 469.4,275.2 C473.3,279.3 477.2,283.3 481.1,288.4 C485.0,293.5 488.4,299.9 492.8,306.0 C497.2,312.1 502.6,320.2 507.5,325.1 C512.4,330.0 517.3,332.7 522.2,335.4 C527.1,338.1 532.5,338.6 536.9,341.3 C541.3,344.0 544.7,348.1 548.6,351.5 C552.5,354.9 556.9,359.4 560.3,361.8 C563.7,364.2 565.8,365.0 569.1,366.2 C572.4,367.4 575.5,368.8 580.0,369.1 C584.5,369.5 589.0,369.4 595.9,368.3 C602.8,367.2 612.2,365.1 621.2,362.6 C630.2,360.1 641.2,355.8 649.6,353.2 C658.0,350.6 665.4,349.4 671.7,346.9 C678.0,344.4 682.2,340.7 687.5,338.4 C692.8,336.1 698.5,333.8 703.3,333.3 C708.0,332.8 711.8,335.2 716.0,335.2 C720.2,335.2 723.4,336.4 728.6,333.3 C733.9,330.2 740.1,322.0 747.5,316.9 C754.9,311.8 767.4,305.5 772.8,302.7 C778.2,299.9 775.9,301.9 780.0,300.3 C784.1,298.7 790.7,295.3 797.5,293.0 C804.3,290.7 815.8,288.1 820.9,286.6 C826.0,285.1 824.3,286.6 828.2,284.2 C832.1,281.8 838.7,277.4 844.3,272.5 C849.9,267.6 856.5,259.7 861.9,254.8 C867.3,249.9 871.6,245.8 876.5,243.1 C881.4,240.4 886.2,241.1 891.1,238.7 C896.0,236.3 900.8,232.9 905.7,228.5 C910.6,224.1 915.5,217.8 920.4,212.4 C925.3,207.0 930.6,201.5 935.0,196.3 C939.4,191.1 941.4,186.2 946.7,181.0 C952.1,175.8 959.8,169.2 967.1,164.8 C974.4,160.4 982.7,157.8 990.5,154.6 C998.3,151.4 1007.6,148.2 1013.9,145.8 C1020.2,143.4 1023.6,141.9 1028.5,140.0 C1033.4,138.1 1040.8,135.1 1043.2,134.1" fill="none" stroke="#48DCE4" stroke-width="2" stroke-linejoin="round"/>
<path d="M3.2,130.0 C4.1,130.0 6.6,129.5 8.8,130.0 C11.0,130.5 13.3,131.8 16.2,133.2 C19.1,134.6 23.0,135.9 26.4,138.4 C29.8,140.9 33.3,145.2 36.7,147.9 C40.1,150.6 43.8,153.7 47.0,154.8 C50.2,156.0 53.8,153.9 55.8,154.8 C57.8,155.7 57.5,158.0 58.7,160.4 C59.9,162.8 61.4,167.2 63.1,169.2 C64.8,171.1 64.8,170.6 69.0,172.1 C73.2,173.6 83.7,177.1 88.1,178.0 C92.5,178.9 93.0,178.0 95.4,177.6 C97.9,177.2 100.5,176.6 102.8,175.8 C105.1,175.0 107.0,175.4 109.4,172.9 C111.9,170.4 115.0,164.8 117.5,161.1 C120.0,157.4 122.4,155.2 124.1,150.8 C125.8,146.4 126.5,139.8 127.8,134.7 C129.2,129.6 130.3,127.2 132.2,120.0 C134.1,112.8 135.8,101.5 139.0,91.2 C142.2,80.9 147.5,66.2 151.7,58.0 C155.9,49.8 159.8,46.6 164.3,42.2 C168.8,37.8 172.6,33.6 178.5,31.8 C184.4,29.9 194.7,30.5 200.0,31.1 C205.3,31.7 207.0,33.5 210.5,35.3 C214.0,37.0 217.5,39.6 221.0,41.6 C224.5,43.6 227.4,46.3 231.4,47.3 C235.4,48.2 241.2,47.9 245.1,47.3 C248.9,46.7 251.7,44.2 254.5,43.7 C257.3,43.2 259.4,43.2 261.8,44.4 C264.2,45.6 266.6,48.1 269.2,51.1 C271.8,54.1 274.5,57.4 277.6,62.6 C280.7,67.8 284.5,77.4 288.0,82.5 C291.5,87.6 295.2,90.2 298.5,93.0 C301.8,95.8 304.7,97.7 307.5,99.4 C310.3,101.1 312.6,101.2 315.1,103.2 C317.6,105.2 320.1,108.4 322.6,111.7 C325.1,115.0 327.1,119.7 330.2,123.0 C333.3,126.3 337.1,130.0 341.5,131.5 C345.9,133.0 350.8,131.8 356.6,131.9 C362.4,132.0 372.0,133.5 376.4,131.9 C380.8,130.3 380.6,125.8 383.0,122.1 C385.4,118.4 388.1,112.6 390.6,109.8 C393.1,107.0 395.4,106.3 398.1,105.1 C400.8,103.9 403.8,102.9 406.6,102.8 C409.4,102.7 412.4,103.2 415.1,104.7 C417.8,106.2 420.4,108.7 422.6,111.7 C424.8,114.8 426.1,117.5 428.3,123.0 C430.5,128.5 433.3,139.5 435.8,144.7 C438.3,149.9 440.9,151.5 443.4,154.2 C445.9,156.9 448.4,158.3 450.9,160.8 C453.4,163.3 455.8,166.0 458.5,169.2 C461.2,172.4 464.6,177.0 467.0,180.0 C469.4,183.0 469.6,183.0 472.7,187.4 C475.8,191.8 481.1,199.7 485.3,206.3 C489.5,212.9 494.3,218.0 498.0,226.9 C501.7,235.8 505.3,254.1 507.4,260.0 C509.5,265.9 509.0,261.7 510.6,262.3 C512.2,262.9 514.8,263.6 516.9,263.8 C519.0,264.1 519.5,263.4 523.2,263.8 C526.9,264.2 535.8,265.9 539.0,266.4 C542.2,266.9 539.6,266.2 542.2,267.0 C544.8,267.8 551.1,268.5 554.8,271.0 C558.5,273.5 560.6,276.8 564.3,282.1 C568.0,287.4 573.8,298.8 577.0,302.7 C580.2,306.6 580.1,306.2 583.3,305.8 C586.4,305.4 589.6,302.0 595.9,300.4 C602.2,298.8 615.4,297.2 621.2,296.3 C627.0,295.4 626.9,297.2 630.6,294.8 C634.3,292.4 639.6,284.6 643.3,282.1 C647.0,279.6 648.1,279.9 652.8,279.6 C657.5,279.3 666.4,278.8 671.7,280.5 C677.0,282.2 680.4,288.2 684.4,290.0 C688.4,291.8 692.2,291.6 695.5,291.2 C698.8,290.8 701.6,288.5 703.9,287.6 C706.2,286.7 707.0,285.8 709.1,286.0 C711.2,286.2 714.1,288.2 716.4,289.1 C718.7,290.0 720.6,291.7 722.7,291.2 C724.8,290.7 726.9,289.0 729.0,286.0 C731.1,283.0 733.2,278.3 735.3,273.4 C737.4,268.5 739.5,261.9 741.6,256.6 C743.7,251.4 745.8,246.1 747.9,241.9 C750.0,237.7 751.8,234.7 754.2,231.4 C756.7,228.1 759.8,224.5 762.6,222.0 C765.4,219.5 768.2,217.7 771.0,216.4 C773.8,215.1 776.2,214.8 779.3,214.3 C782.4,213.8 787.0,213.6 789.8,213.6 C792.6,213.6 794.0,213.8 796.1,214.3 C798.2,214.8 800.2,216.2 802.4,216.8 C804.6,217.5 805.6,218.1 809.2,218.2 C812.8,218.3 819.3,217.4 823.9,217.4 C828.5,217.4 833.8,219.0 837.0,218.2 C840.2,217.4 840.7,215.6 842.9,212.4 C845.1,209.2 847.8,203.6 850.2,199.2 C852.6,194.8 855.3,191.0 857.5,186.1 C859.7,181.2 861.6,174.8 863.3,170.0 C865.0,165.2 865.5,162.3 867.7,157.5 C869.9,152.7 872.6,145.3 876.5,141.4 C880.4,137.5 887.9,136.8 891.1,134.1 C894.3,131.4 893.9,127.9 895.6,125.0 C897.3,122.1 899.3,119.0 901.5,116.5 C903.7,114.0 905.4,112.4 908.8,109.9 C912.2,107.5 918.6,103.5 922.0,101.8 C925.4,100.1 926.8,100.1 929.0,99.6 C931.2,99.1 932.6,98.8 935.0,98.8 C937.4,98.8 940.2,97.9 943.4,99.5 C946.5,101.1 950.8,104.8 953.9,108.4 C957.0,112.0 959.9,118.0 962.3,121.0 C964.7,124.0 966.2,124.2 968.5,126.2 C970.8,128.2 973.6,131.9 975.9,133.1 C978.2,134.2 979.9,134.1 982.2,133.1 C984.5,132.1 986.9,129.8 989.5,127.2 C992.1,124.7 995.1,121.3 997.9,117.8 C1000.7,114.3 1003.5,109.5 1006.3,106.3 C1009.1,103.0 1012.2,99.9 1014.7,98.3 C1017.2,96.7 1017.7,96.8 1021.0,96.4 C1024.3,96.0 1031.8,96.2 1034.6,95.8 C1037.4,95.3 1036.5,96.7 1037.7,93.7 C1038.9,90.7 1041.3,80.6 1042.0,78.0" fill="none" stroke="#00008C" stroke-width="2" stroke-linejoin="round"/>
<path d="M3.2,233.7 C4.8,234.2 8.9,236.6 12.6,236.9 C16.3,237.2 21.1,235.7 25.3,235.3 C29.5,234.9 34.2,233.8 37.9,234.6 C41.6,235.4 44.2,237.8 47.4,240.0 C50.6,242.2 53.7,247.4 56.9,247.9 C60.1,248.4 62.2,243.6 66.4,243.2 C70.6,242.8 75.3,245.2 82.1,245.4 C88.9,245.6 100.6,242.1 107.4,244.1 C114.2,246.1 118.5,250.7 123.2,257.4 C128.0,264.1 131.7,276.6 135.9,284.2 C140.1,291.8 144.8,299.3 148.5,303.2 C152.2,307.1 154.3,307.3 158.0,307.3 C161.7,307.3 166.4,306.8 170.6,303.2 C174.8,299.6 178.6,294.5 183.3,285.8 C188.0,277.1 193.8,260.5 199.0,251.0 C204.2,241.5 211.1,234.2 214.8,229.0 C218.5,223.8 218.9,223.2 221.0,220.0 C223.1,216.8 224.3,213.1 227.5,210.0 C230.7,206.9 235.8,201.8 240.0,201.5 C244.2,201.2 248.0,203.7 252.8,208.5 C257.6,213.3 263.3,226.8 268.6,230.5 C273.9,234.2 279.7,231.8 284.4,230.5 C289.1,229.2 293.1,224.5 297.0,222.6 C300.9,220.7 304.8,218.3 308.0,218.8 C311.2,219.3 312.0,225.3 316.0,225.8 C320.0,226.3 326.6,221.7 331.8,222.0 C337.1,222.3 342.2,225.2 347.5,227.4 C352.8,229.6 358.6,232.7 363.3,235.3 C368.1,237.9 372.6,237.4 376.0,243.2 C379.4,249.0 381.4,261.7 383.8,270.0 C386.2,278.3 388.0,286.1 390.1,292.8 C392.2,299.5 394.3,304.9 396.4,310.4 C398.5,315.8 400.6,319.9 402.7,325.5 C404.8,331.1 406.9,339.7 409.0,344.3 C411.1,348.9 413.0,350.0 415.3,353.1 C417.6,356.2 420.3,361.5 422.8,363.2 C425.3,364.9 428.1,363.8 430.4,363.2 C432.7,362.6 434.2,359.6 436.7,359.4 C439.2,359.2 442.1,360.4 445.5,362.0 C448.9,363.6 453.6,365.9 456.9,369.0 C460.1,372.1 461.6,376.7 465.0,380.5 C468.4,384.3 473.4,387.3 477.6,392.0 C481.8,396.7 487.1,405.7 490.2,408.8 C493.3,411.9 493.3,412.5 496.4,410.9 C499.5,409.3 505.9,400.6 509.0,399.4 C512.1,398.2 512.8,401.2 515.3,403.5 C517.8,405.8 520.6,410.6 523.7,413.0 C526.9,415.4 531.6,416.3 534.2,418.2 C536.8,420.1 537.0,420.6 539.4,424.5 C541.8,428.4 546.1,436.9 548.9,441.3 C551.7,445.7 554.1,448.9 556.2,450.7 C558.3,452.4 558.4,452.9 561.4,451.8 C564.4,450.8 570.5,446.8 574.0,444.4 C577.5,441.9 579.9,437.9 582.4,437.1 C584.9,436.3 584.2,439.1 589.0,439.6 C593.8,440.1 604.6,440.7 611.0,440.0 C617.4,439.3 621.6,436.0 627.5,435.3 C633.4,434.6 640.6,436.8 646.4,436.0 C652.2,435.2 658.0,431.8 662.2,430.6 C666.4,429.4 669.1,431.1 671.7,429.0 C674.3,426.9 675.9,422.7 678.0,418.0 C680.1,413.3 682.3,406.1 684.4,400.6 C686.5,395.1 688.6,388.1 690.7,384.8 C692.8,381.5 694.4,381.3 697.0,381.0 C699.6,380.7 702.8,383.0 706.5,383.2 C710.2,383.4 714.9,381.7 719.1,382.2 C723.3,382.7 727.8,384.3 731.8,386.3 C735.8,388.3 740.2,391.6 742.8,394.2 C745.4,396.8 744.6,400.9 747.5,402.1 C750.4,403.4 755.2,401.6 760.0,401.7 C764.8,401.8 771.6,403.9 776.0,402.6 C780.4,401.4 782.9,396.6 786.4,394.2 C789.9,391.8 794.1,390.8 796.8,388.1 C799.5,385.4 800.1,381.1 802.5,378.1 C804.9,375.1 808.5,372.1 810.9,370.0 C813.2,367.9 814.7,366.7 816.6,365.8 C818.5,364.9 820.2,365.4 822.3,364.9 C824.3,364.3 826.7,366.1 828.9,362.5 C831.1,358.9 831.6,346.8 835.5,343.6 C839.4,340.4 848.9,343.3 852.5,343.2 C856.1,343.1 855.0,341.4 857.2,342.8 C859.4,344.2 862.4,348.7 865.7,351.7 C869.0,354.7 872.9,358.9 877.0,360.6 C881.1,362.3 885.8,361.5 890.2,361.7 C894.6,361.9 899.0,364.0 903.4,361.7 C907.8,359.4 912.8,353.5 916.6,347.9 C920.4,342.3 922.7,335.8 926.2,328.1 C929.8,320.4 934.7,309.6 937.9,301.8 C941.1,294.0 942.8,289.1 945.2,281.3 C947.6,273.5 950.8,260.9 952.5,255.0 C954.2,249.1 953.7,251.9 955.4,246.0 C957.1,240.1 960.3,227.0 962.7,219.7 C965.1,212.4 967.8,207.2 970.0,202.2 C972.2,197.2 973.4,192.8 975.9,189.9 C978.4,187.0 981.8,185.2 984.7,184.6 C987.6,184.0 990.8,184.9 993.5,186.1 C996.2,187.3 998.4,190.1 1000.8,191.9 C1003.2,193.7 1005.8,196.3 1008.0,196.9 C1010.2,197.5 1011.4,197.0 1013.9,195.7 C1016.4,194.4 1019.3,190.4 1022.7,189.0 C1026.1,187.6 1032.0,187.7 1034.4,187.5 C1036.8,187.3 1035.8,186.9 1037.3,188.1 C1038.8,189.3 1042.2,193.8 1043.2,194.9" fill="none" stroke="#00008C" stroke-width="2" stroke-linejoin="round"/>
<polyline points="3.2,131.0 8.8,136.4 36.0,136.4 44.1,149.4 49.9,160.4 55.8,174.0 109.7,174.6 116.0,237.5 123.3,235.4 135.9,176.7 150.6,156.8 209.3,156.8 212.0,120.0 215.7,73.7 223.1,73.7 237.7,89.8 245.1,103.5 252.8,122.8 256.0,132.0 290.0,131.4 291.3,145.3 296.3,213.0 308.9,210.6 311.4,170.4 312.7,132.7 314.3,110.0 315.6,81.0 336.3,81.0 348.1,90.0 356.6,98.5 359.4,107.0 362.3,120.2 376.4,121.7 378.3,129.6 383.5,165.0 389.7,196.4 395.0,207.0 449.0,206.3 458.5,225.3 466.4,260.0 469.5,271.0 477.4,271.0 490.0,288.4 517.0,289.0 535.9,291.6 545.3,316.9 554.8,335.2 569.0,335.2 570.6,360.0 576.3,462.2 581.7,418.0 595.9,417.3 640.1,416.4 738.5,415.0 742.7,412.8 747.9,401.3 756.3,371.9 764.7,370.9 769.9,367.7 835.5,366.8 837.4,365.8 840.2,332.0 841.4,322.3 848.7,321.7 854.6,293.0 857.5,275.5 864.8,263.2 872.1,255.0 876.5,249.5 897.0,247.5 908.7,245.4 917.4,232.9 926.2,228.5 937.9,222.6 946.7,210.9 951.1,207.4 975.9,207.4 981.8,201.6 989.1,200.7 996.4,187.5 1002.2,187.0 1011.0,175.3 1016.8,173.5 1043.2,173.5" fill="none" stroke="#B622B6" stroke-width="2" stroke-linejoin="round"/>
<line x1="1147.5" y1="0" x2="1147.5" y2="474" stroke="#000" stroke-width="1"/>
<line x1="0" y1="464.5" x2="1147" y2="464.5" stroke="#000" stroke-width="1"/>
<line x1="1145" y1="83.5" x2="1148" y2="83.5" stroke="#000" stroke-width="1"/>
<text x="1150.5" y="88.3" class="ax">140</text>
<line x1="1145" y1="113.5" x2="1148" y2="113.5" stroke="#000" stroke-width="1"/>
<text x="1150.5" y="118.0" class="ax">135</text>
<line x1="1145" y1="143.5" x2="1148" y2="143.5" stroke="#000" stroke-width="1"/>
<text x="1150.5" y="148.8" class="ax">130</text>
<line x1="1145" y1="175.5" x2="1148" y2="175.5" stroke="#000" stroke-width="1"/>
<text x="1150.5" y="180.8" class="ax">125</text>
<line x1="1145" y1="209.5" x2="1148" y2="209.5" stroke="#000" stroke-width="1"/>
<text x="1150.5" y="214.2" class="ax">120</text>
<line x1="1145" y1="244.5" x2="1148" y2="244.5" stroke="#000" stroke-width="1"/>
<text x="1150.5" y="248.9" class="ax">115</text>
<line x1="1145" y1="280.5" x2="1148" y2="280.5" stroke="#000" stroke-width="1"/>
<text x="1150.5" y="285.2" class="ax">110</text>
<line x1="1145" y1="318.5" x2="1148" y2="318.5" stroke="#000" stroke-width="1"/>
<text x="1150.5" y="323.2" class="ax">105</text>
<line x1="1145" y1="358.5" x2="1148" y2="358.5" stroke="#000" stroke-width="1"/>
<text x="1150.5" y="363.0" class="ax">100</text>
<line x1="1145" y1="399.5" x2="1148" y2="399.5" stroke="#000" stroke-width="1"/>
<text x="1150.5" y="404.8" class="ax">95.00</text>
<line x1="1145" y1="444.5" x2="1148" y2="444.5" stroke="#000" stroke-width="1"/>
<text x="1150.5" y="449.0" class="ax">90.00</text>
<line x1="1145" y1="55.5" x2="1148" y2="55.5" stroke="#000" stroke-width="1"/>
<rect x="1149" y="49" width="43" height="19" fill="#000"/>
<text x="1150.5" y="60.0" class="ax" style="fill:#fff;stroke:#fff">144.94</text>
<line x1="29.5" y1="33" x2="29.5" y2="52" stroke="#000" stroke-width="1" stroke-dasharray="2,1.5"/>
<text x="0" y="12.5" class="hd" fill="#111" stroke="#111">ZEEL [N3812]</text>
<text x="86" y="12.5" class="hd" fill="#111" stroke="#111">144.94<tspan fill="#3a8a3a">,</tspan></text>
<text x="136" y="12.5" class="hd" fill="#3a8a3a" stroke="#3a8a3a">8.91%</text>
<text x="0" y="28" class="hd" fill="#5ad25a" stroke="#5ad25a">Price</text>
<text x="33" y="28" class="hd" fill="#1a1a8c" stroke="#1a1a8c">Boll(S,20,2.00)</text>
<text x="122.3" y="28" class="hd" fill="#c03838" stroke="#c03838">Avg2(S,50,S,100)</text>
<text x="228" y="28" class="hd" fill="#c040c0" stroke="#c040c0">STrend(3.00,10,0)</text>
<text x="340" y="28" class="hd" fill="#4cc84c" stroke="#4cc84c">Avg(S,200)</text>
<text x="31.5" y="45.7" class="hd" fill="#111" stroke="#111">D 1</text>
<text x="529.3" y="51.8" class="note">ZEEL stock is likely to trade on an upbeat note as long as the</text>
<text x="529.3" y="70" class="note">stock holds above ₹141.50. On the upside, the stock can</text>
<text x="529.3" y="88" class="note">potentially soar to ₹175.65 levels.</text>
<text x="50.6" y="460" class="hd" fill="#222" stroke="#222" style="font-size:12.5px">Source : www.SpiderSoftwareIndia.Com</text>
<g clip-path="url(#clipb)"><text x="0" y="477.5" class="hd" fill="#5ad25a" stroke="#5ad25a">Vol</text><text x="1126" y="477.5" class="hd" fill="#222" stroke="#222">1k</text></g>
<text x="1121.3" y="27.7" class="lg" fill="#111" stroke="#111" style="font-size:11px">LOG</text>
<text x="1155.3" y="27.7" class="lg" fill="#111" stroke="#111" style="font-size:11px">IRIS</text>
<text x="1212.5" y="13.6" class="lg" fill="#111" stroke="#111">0.00</text>
<text x="1196.8" y="30" class="lg" fill="#111" stroke="#111">23-06-25 Mo</text>
<text x="1196.8" y="43.6" class="lg" fill="#44d244" stroke="#44d244">Op</text><text x="1228.2" y="43.6" class="lg" fill="#44d244" stroke="#44d244">132.50</text>
<text x="1196.8" y="57.6" class="lg" fill="#b02030" stroke="#b02030">Hi</text><text x="1228.2" y="57.6" class="lg" fill="#a02030" stroke="#a02030">146.69</text>
<text x="1196.8" y="71.6" class="lg" fill="#c0c0c0" stroke="#c0c0c0">Lo</text><text x="1228.2" y="71.6" class="lg" fill="#b0b0b0" stroke="#b0b0b0">132.01</text>
<text x="1196.8" y="85.7" class="lg" fill="#c030c0" stroke="#c030c0">Cl</text><text x="1228.2" y="85.7" class="lg" fill="#c030c0" stroke="#c030c0">144.94</text>
<text x="1196.8" y="99.7" class="lg" fill="#101080" stroke="#101080">Bo</text><text x="1228.2" y="99.7" class="lg" fill="#101080" stroke="#101080">141.05</text>
<text x="1196.8" y="113.7" class="lg" fill="#50dce4" stroke="#50dce4">Bo</text><text x="1228.2" y="113.7" class="lg" fill="#50dce4" stroke="#50dce4">131.59</text>
<text x="1196.8" y="127.7" class="lg" fill="#101080" stroke="#101080">Bo</text><text x="1228.2" y="127.7" class="lg" fill="#101080" stroke="#101080">122.13</text>
<text x="1196.8" y="141.7" class="lg" fill="#b02828" stroke="#b02828">Av</text><text x="1228.2" y="141.7" class="lg" fill="#b02828" stroke="#b02828">122.09</text>
<text x="1196.8" y="155.8" class="lg" fill="#e09040" stroke="#e09040">Av</text><text x="1228.2" y="155.8" class="lg" fill="#d89040" stroke="#d89040">112.07</text>
<text x="1196.8" y="169.8" class="lg" fill="#c030c0" stroke="#c030c0">ST</text><text x="1228.2" y="169.8" class="lg" fill="#c030c0" stroke="#c030c0">125.26</text>
<text x="1196.8" y="183.8" class="lg" fill="#44d044" stroke="#44d044">Av</text><text x="1228.2" y="183.8" class="lg" fill="#44d044" stroke="#44d044">119.66</text>
</svg>
</body></html>
